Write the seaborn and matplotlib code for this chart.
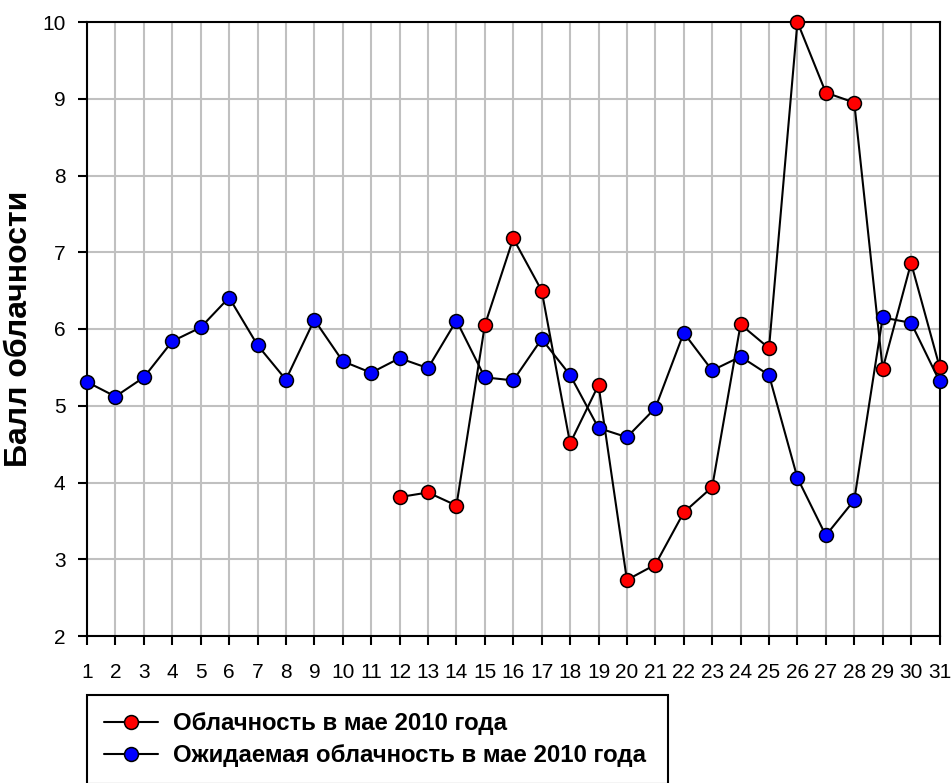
import numpy as np
import pandas as pd
import matplotlib
matplotlib.use("Agg")
import matplotlib.pyplot as plt
import seaborn as sns

days = list(range(1, 32))
actual = [np.nan] * 11 + [3.81, 3.87, 3.70, 6.05, 7.18, 6.50, 4.51, 5.27, 2.73, 2.93,
                          3.61, 3.94, 6.06, 5.75, 10.0, 9.08, 8.95, 5.48, 6.86, 5.51]
expected = [5.31, 5.12, 5.37, 5.84, 6.02, 6.41, 5.79, 5.34, 6.12, 5.58, 5.43, 5.62,
            5.49, 6.11, 5.37, 5.33, 5.87, 5.40, 4.71, 4.59, 4.97, 5.95, 5.46, 5.64,
            5.40, 4.06, 3.31, 3.77, 6.15, 6.08, 5.32]
labels = ["Облачность в мае 2010 года", "Ожидаемая облачность в мае 2010 года"]
ylabel = "Балл облачности"
yticks = list(range(2, 11))

sns.set_theme(style="white")
plt.rcParams['font.family'] = ['Liberation Sans', 'DejaVu Sans']

fig = plt.figure(figsize=(9.52, 7.83), dpi=100)
ax = fig.add_axes([87 / 952, 1 - 636 / 783, (939.5 - 87) / 952, (636 - 22) / 783])

df_a = pd.DataFrame({"day": days, "val": actual})
df_e = pd.DataFrame({"day": days, "val": expected})

common = dict(color="black", linewidth=1.5, marker="o", markersize=10,
              markeredgecolor="black", markeredgewidth=1.1, zorder=3)
sns.lineplot(data=df_a, x="day", y="val", ax=ax, markerfacecolor="#ff0000",
             label=labels[0], **common)
sns.lineplot(data=df_e, x="day", y="val", ax=ax, markerfacecolor="#0000ff",
             label=labels[1], **common)

ax.set_xlim(1, 31)
ax.set_ylim(2, 10)
ax.set_xticks(days)
ax.set_xticklabels([str(d) for d in days])
ax.set_yticks(yticks)
ax.grid(True, color="#c0c0c0", linewidth=1.5, zorder=0)
ax.set_axisbelow(True)
for s in ax.spines.values():
    s.set_color("black")
    s.set_linewidth(1.5)
    s.set_visible(True)
ax.tick_params(axis="both", direction="out", length=6.5, width=1.5, color="black",
               labelsize=15, labelcolor="black", bottom=True, left=True)
ax.tick_params(axis="x", pad=13)
ax.tick_params(axis="y", pad=9)
ax.set_xlabel("")
ax.set_ylabel(ylabel, fontsize=23, fontweight="bold", color="black")
ax.yaxis.set_label_coords((34 - 87) / (939.5 - 87), 0.5)
for line in ax.get_lines():
    line.set_clip_on(False)

ytop = 1 - 695 / 783
handles = ax.get_legend_handles_labels()[0]
leg = fig.legend(handles=handles, labels=labels, loc="upper left",
                 bbox_to_anchor=(87 / 952, ytop - 0.3, (668 - 87) / 952, 0.3),
                 mode="expand", frameon=True, fancybox=False,
                 prop={"weight": "bold", "size": 17.3}, handlelength=2.25, handletextpad=0.6,
                 borderpad=0.72, labelspacing=0.36, borderaxespad=0)
ax.get_legend().remove()
leg.get_frame().set_edgecolor("black")
leg.get_frame().set_linewidth(1.5)
leg.get_frame().set_alpha(1)
for t in leg.get_texts():
    t.set_color("black")

fig.savefig("out.png", dpi=100)
